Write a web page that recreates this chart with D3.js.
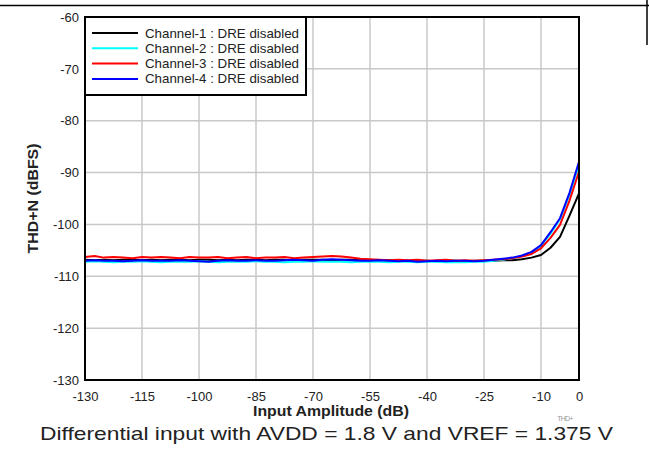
<!DOCTYPE html>
<html><head><meta charset="utf-8">
<script src="https://cdn.jsdelivr.net/npm/d3@7"></script>
<style>body{margin:0;background:#fff}svg{display:block;font-family:"Liberation Sans",Arial,sans-serif}</style>
</head><body>
<script>
const inputDb = [-130,-127.5,-125,-122.5,-120,-117.5,-115,-112.5,-110,-107.5,
  -105,-102.5,-100,-97.5,-95,-92.5,-90,-87.5,-85,-82.5,
  -80,-77.5,-75,-72.5,-70,-67.5,-65,-62.5,-60,-57.5,
  -55,-52.5,-50,-47.5,-45,-42.5,-40,-37.5,-35,-32.5,
  -30,-27.5,-25,-22.5,-20,-17.5,-15,-12.5,-10,-7.5,
  -5,-2.5,0];
const ch1 = [-106.8,-106.9,-106.8,-106.9,-106.8,-106.8,-106.9,-106.8,-106.9,-106.8,
  -106.8,-106.9,-106.8,-106.8,-106.9,-106.8,-106.9,-106.8,-106.8,-106.9,
  -106.8,-106.8,-106.9,-106.8,-106.8,-106.8,-106.9,-106.8,-106.8,-106.9,
  -106.9,-107.0,-106.9,-107.0,-107.0,-107.0,-107.0,-107.1,-107.0,-107.0,
  -107.1,-107.0,-107.0,-107.0,-106.9,-106.9,-106.7,-106.4,-105.9,-104.5,
  -102.4,-98.3,-94.0];
const ch2 = [-107.2,-107.1,-107.2,-107.3,-107.2,-107.2,-107.1,-107.2,-107.3,-107.2,
  -107.2,-107.2,-107.1,-107.2,-107.3,-107.2,-107.2,-107.2,-107.1,-107.2,
  -107.2,-107.3,-107.2,-107.2,-107.1,-107.2,-107.2,-107.2,-107.3,-107.2,
  -107.2,-107.2,-107.3,-107.2,-107.2,-107.3,-107.2,-107.2,-107.3,-107.3,
  -107.3,-107.2,-107.2,-107.0,-106.8,-106.5,-106.1,-105.5,-104.2,-101.8,
  -99.0,-94.3,-88.4];
const ch3 = [-106.3,-106.1,-106.4,-106.3,-106.4,-106.5,-106.3,-106.4,-106.3,-106.4,
  -106.5,-106.3,-106.4,-106.4,-106.3,-106.5,-106.4,-106.3,-106.5,-106.4,
  -106.4,-106.3,-106.5,-106.4,-106.3,-106.2,-106.1,-106.2,-106.4,-106.6,
  -106.7,-106.8,-106.9,-106.8,-106.9,-106.8,-107.0,-106.9,-106.8,-107.0,
  -106.9,-107.0,-106.9,-106.8,-106.7,-106.5,-106.2,-105.7,-104.6,-102.6,
  -100.1,-95.4,-89.8];
const ch4 = [-107.0,-106.9,-107.0,-107.0,-107.1,-107.0,-106.9,-107.0,-107.0,-107.0,
  -106.9,-107.0,-107.1,-107.2,-107.0,-106.9,-107.0,-107.0,-106.9,-107.0,
  -107.0,-106.9,-106.8,-106.9,-107.0,-106.8,-106.7,-106.8,-106.9,-107.0,
  -107.0,-106.9,-107.0,-107.1,-107.0,-107.2,-107.1,-107.0,-107.1,-107.0,
  -107.0,-107.1,-107.0,-106.8,-106.6,-106.4,-106.0,-105.3,-104.0,-101.5,
  -98.8,-93.9,-87.9];
const seriesNames = ["Channel-1 : DRE disabled","Channel-2 : DRE disabled","Channel-3 : DRE disabled","Channel-4 : DRE disabled"];
const seriesColors = ["#000000","#00ffff","#ff0000","#0000ff"];
const xTicks = [-130,-115,-100,-85,-70,-55,-40,-25,-10,0];
const yTicks = [-60,-70,-80,-90,-100,-110,-120,-130];

const W=649,H=449;
const svg=d3.select("body").append("svg").attr("width",W).attr("height",H);
const L=85,R=579,T=17,B=380;
const x=d3.scaleLinear().domain([-130,0]).range([L,R]);
const y=d3.scaleLinear().domain([-130,-60]).range([B,T]);
const fmt=d=>String(d);
const FF="Liberation Sans, Arial, sans-serif";

// top border line
svg.append("line").attr("x1",0).attr("x2",W).attr("y1",5.5).attr("y2",5.5).attr("stroke","#000").attr("stroke-width",1.5);
svg.append("line").attr("x1",647).attr("x2",647).attr("y1",0).attr("y2",45).attr("stroke","#000").attr("stroke-width",1.5);

// grid
const g=svg.append("g");
g.selectAll(".vg").data(xTicks).join("line").attr("x1",d=>x(d)).attr("x2",d=>x(d)).attr("y1",T).attr("y2",B).attr("stroke","#c8c8c8").attr("stroke-width",1.5);
g.selectAll(".hg").data(yTicks).join("line").attr("y1",d=>y(d)).attr("y2",d=>y(d)).attr("x1",L).attr("x2",R).attr("stroke","#c8c8c8").attr("stroke-width",1.5);

// axes labels
const xa=svg.append("g").attr("transform",`translate(0,${B})`).call(d3.axisBottom(x).tickValues(xTicks).tickSize(0).tickPadding(12).tickFormat(fmt));
xa.select(".domain").remove();
xa.selectAll("text").attr("font-size",13).attr("fill","#222").attr("font-family",FF);
const ya=svg.append("g").attr("transform",`translate(${L},0)`).call(d3.axisLeft(y).tickValues(yTicks).tickSize(0).tickPadding(6).tickFormat(fmt));
ya.select(".domain").remove();
ya.selectAll("text").attr("font-size",13).attr("fill","#222").attr("font-family",FF);

// lines
const allSeries=[ch1,ch2,ch3,ch4];
const line=d3.line().x((d,i)=>x(inputDb[i])).y(d=>y(d));
svg.append("g").selectAll("path").data(allSeries).join("path")
  .attr("d",d=>line(d)).attr("fill","none").attr("stroke",(d,i)=>seriesColors[i]).attr("stroke-width",2).attr("stroke-linejoin","round");

// frame
svg.append("rect").attr("x",L).attr("y",T).attr("width",R-L).attr("height",B-T).attr("fill","none").attr("stroke","#000").attr("stroke-width",2);

// legend
const lg=svg.append("g");
lg.append("rect").attr("x",L).attr("y",T).attr("width",221).attr("height",78).attr("fill","#fff").attr("stroke","#000").attr("stroke-width",2);
seriesNames.forEach((n,i)=>{
  const yy=33+i*15.3;
  lg.append("line").attr("x1",92).attr("x2",138).attr("y1",yy).attr("y2",yy).attr("stroke",seriesColors[i]).attr("stroke-width",2);
  lg.append("text").attr("x",145).attr("y",yy+4.5).attr("font-size",13).attr("fill","#222")
    .attr("textLength",154).attr("lengthAdjust","spacingAndGlyphs").text(n);
});

// titles
svg.append("text").attr("x",331).attr("y",416).attr("text-anchor","middle").attr("font-size",14).attr("font-weight","bold").attr("fill","#222")
  .attr("textLength",156).attr("lengthAdjust","spacingAndGlyphs").text("Input Amplitude (dB)");
svg.append("text").attr("transform",`translate(38,${(T+B)/2}) rotate(-90)`).attr("text-anchor","middle").attr("font-size",14).attr("font-weight","bold").attr("fill","#222")
  .attr("textLength",110).attr("lengthAdjust","spacingAndGlyphs").text("THD+N (dBFS)");
svg.append("text").attr("x",565).attr("y",421).attr("text-anchor","middle").attr("font-size",7).attr("fill","#999").attr("letter-spacing",-0.8).text("THD+");
svg.append("text").attr("x",326.5).attr("y",440).attr("text-anchor","middle").attr("font-size",19).attr("fill","#222")
  .attr("textLength",573).attr("lengthAdjust","spacingAndGlyphs").text("Differential input with AVDD = 1.8 V and VREF = 1.375 V");
</script>
</body></html>
